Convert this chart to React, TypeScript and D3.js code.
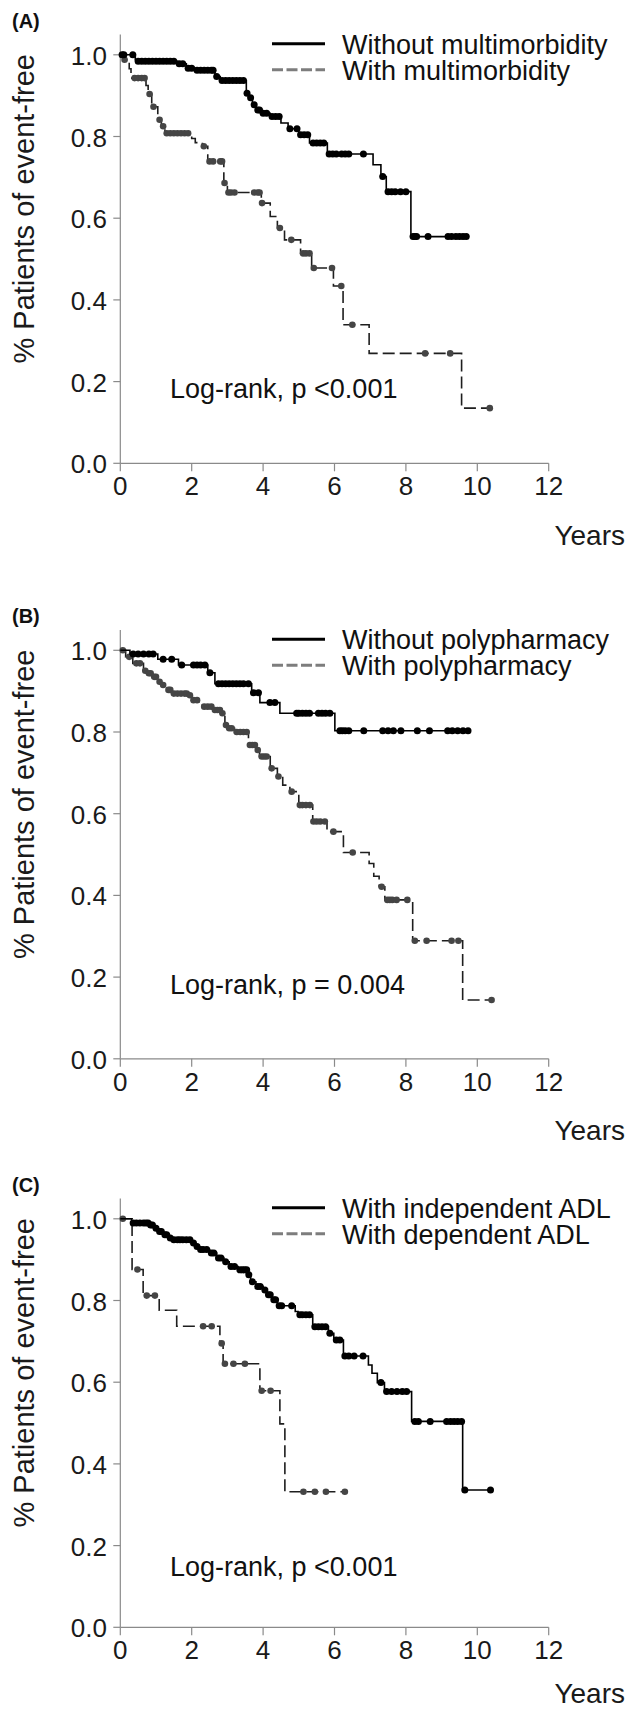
import React from 'react';
import * as d3 from 'd3';

// Kaplan-Meier panels: steps are [years, survival after the drop], censors are times of the marks
const yearTicks = [0, 2, 4, 6, 8, 10, 12];
const survTicks = [0, 0.2, 0.4, 0.6, 0.8, 1.0];
const panelLetters = ['(A)', '(B)', '(C)'];
const pLabels = ['Log-rank, p <0.001', 'Log-rank, p = 0.004', 'Log-rank, p <0.001'];
const legendA = ['Without multimorbidity', 'With multimorbidity'];
const legendB = ['Without polypharmacy', 'With polypharmacy'];
const legendC = ['With independent ADL', 'With dependent ADL'];

const aSolidSteps: [number, number][] = [
  [0.42, 0.988], [0.47, 0.984], [1.6, 0.978], [1.85, 0.967], [2.1, 0.962], [2.65, 0.947],
  [2.8, 0.937], [3.53, 0.906], [3.6, 0.895], [3.7, 0.878], [3.8, 0.865], [3.95, 0.857],
  [4.2, 0.849], [4.5, 0.833], [4.7, 0.819], [5.0, 0.804], [5.3, 0.784], [5.8, 0.757],
  [7.08, 0.731], [7.3, 0.702], [7.45, 0.665], [8.14, 0.555]
];
const aSolidCensor = [
  0.05, 0.1, 0.35, 0.5, 0.6, 0.7, 0.8, 0.9, 1.0, 1.1, 1.2, 1.3, 1.4, 1.5, 1.65, 1.75, 1.9, 2.0,
  2.15, 2.25, 2.35, 2.45, 2.55, 2.6, 2.7, 2.85, 2.95, 3.05, 3.15, 3.25, 3.35, 3.45, 3.55, 3.65,
  3.75, 3.85, 3.9, 4.0, 4.1, 4.25, 4.35, 4.45, 4.75, 4.95, 5.05, 5.15, 5.25, 5.4, 5.5, 5.6, 5.7,
  5.85, 5.95, 6.05, 6.2, 6.3, 6.4, 6.81, 7.35, 7.5, 7.6, 7.7, 7.85, 8.0, 8.2, 8.25, 8.3, 8.62,
  9.18, 9.28, 9.4, 9.5, 9.6, 9.69
];
const aDashSteps: [number, number][] = [
  [0.1, 0.988], [0.25, 0.966], [0.3, 0.943], [0.72, 0.925], [0.78, 0.904], [0.88, 0.873],
  [1.05, 0.841], [1.15, 0.825], [1.25, 0.808], [2.0, 0.795], [2.1, 0.785], [2.3, 0.776],
  [2.45, 0.739], [2.9, 0.686], [3.0, 0.663], [3.95, 0.637], [4.2, 0.604], [4.4, 0.576],
  [4.6, 0.547], [5.05, 0.514], [5.36, 0.478], [5.97, 0.434], [6.24, 0.339], [6.97, 0.269],
  [9.56, 0.135]
];
const aDashCensor = [
  0.12, 0.4, 0.5, 0.6, 0.68, 0.82, 0.93, 1.1, 1.2, 1.3, 1.4, 1.5, 1.6, 1.7, 1.8, 1.9, 2.34,
  2.5, 2.6, 2.8, 2.85, 2.92, 3.03, 3.1, 3.2, 3.75, 3.85, 3.9, 3.97, 4.47, 4.79, 5.12, 5.2, 5.3,
  5.42, 5.93, 6.19, 6.5, 8.54, 9.24, 10.35
];

const bSolidSteps: [number, number][] = [
  [0.27, 0.991], [1.05, 0.978], [1.63, 0.964], [2.45, 0.945], [2.65, 0.918], [3.68, 0.896],
  [3.91, 0.872], [4.47, 0.846], [6.01, 0.803]
];
const bSolidCensor = [
  0.36, 0.5, 0.65, 0.8, 0.92, 1.2, 1.44, 1.72, 2.05, 2.15, 2.25, 2.37, 2.51, 2.75, 2.85, 2.95,
  3.05, 3.15, 3.25, 3.35, 3.45, 3.59, 3.73, 3.87, 4.19, 4.33, 4.94, 5.0, 5.1, 5.2, 5.3, 5.55,
  5.65, 5.75, 5.87, 6.15, 6.22, 6.3, 6.4, 6.82, 7.35, 7.5, 7.65, 7.86, 8.32, 8.66, 9.17, 9.3,
  9.45, 9.6, 9.74
];
const bDashSteps: [number, number][] = [
  [0.15, 0.984], [0.35, 0.968], [0.65, 0.95], [0.75, 0.944], [0.9, 0.935], [1.05, 0.923],
  [1.15, 0.915], [1.3, 0.903], [1.45, 0.894], [1.9, 0.89], [2.0, 0.878], [2.2, 0.87],
  [2.3, 0.862], [2.6, 0.854], [2.82, 0.846], [2.93, 0.817], [3.0, 0.809], [3.2, 0.8],
  [3.59, 0.768], [3.8, 0.756], [3.9, 0.74], [4.2, 0.711], [4.4, 0.691], [4.55, 0.67],
  [4.75, 0.654], [5.0, 0.621], [5.39, 0.581], [5.79, 0.556], [6.25, 0.505], [6.97, 0.478],
  [7.1, 0.447], [7.25, 0.421], [7.41, 0.389], [8.19, 0.289], [9.59, 0.144]
];
const bDashCensor = [
  0.07, 0.25, 0.45, 0.55, 0.7, 0.8, 0.85, 0.95, 1.0, 1.1, 1.2, 1.35, 1.4, 1.5, 1.6, 1.7, 1.8,
  1.86, 1.95, 2.05, 2.15, 2.35, 2.45, 2.55, 2.65, 2.72, 2.79, 2.86, 2.96, 3.05, 3.12, 3.26,
  3.36, 3.45, 3.54, 3.63, 3.7, 3.77, 3.85, 3.96, 4.03, 4.1, 4.24, 4.43, 4.8, 5.03, 5.1, 5.2,
  5.31, 5.41, 5.5, 5.6, 5.73, 5.97, 6.51, 7.32, 7.48, 7.55, 7.62, 7.74, 8.04, 8.25, 8.58,
  9.28, 9.47, 10.4
];

const cSolidSteps: [number, number][] = [
  [0.32, 0.99], [0.8, 0.985], [0.95, 0.977], [1.05, 0.969], [1.2, 0.961], [1.35, 0.953],
  [1.45, 0.949], [2.0, 0.941], [2.1, 0.932], [2.2, 0.925], [2.5, 0.916], [2.7, 0.904],
  [2.9, 0.895], [3.05, 0.883], [3.3, 0.875], [3.55, 0.863], [3.65, 0.846], [3.8, 0.834],
  [4.0, 0.826], [4.1, 0.814], [4.25, 0.802], [4.4, 0.787], [4.9, 0.773], [4.98, 0.765],
  [5.39, 0.736], [5.83, 0.72], [5.98, 0.703], [6.25, 0.664], [6.95, 0.642], [7.05, 0.622],
  [7.2, 0.599], [7.4, 0.577], [8.16, 0.504], [9.59, 0.336]
];
const cSolidCensor = [
  0.36, 0.45, 0.55, 0.65, 0.72, 0.78, 0.85, 0.9, 1.0, 1.1, 1.15, 1.25, 1.3, 1.4, 1.5, 1.6,
  1.67, 1.75, 1.85, 1.95, 2.05, 2.15, 2.25, 2.32, 2.42, 2.55, 2.62, 2.75, 2.82, 2.95, 3.1,
  3.2, 3.35, 3.42, 3.48, 3.54, 3.6, 3.7, 3.85, 3.92, 4.05, 4.15, 4.2, 4.3, 4.35, 4.45, 4.52,
  4.8, 5.03, 5.1, 5.2, 5.3, 5.45, 5.55, 5.65, 5.75, 5.87, 6.05, 6.15, 6.29, 6.4, 6.55, 6.8,
  7.3, 7.46, 7.6, 7.75, 7.9, 8.02, 8.25, 8.35, 8.68, 9.14, 9.25, 9.35, 9.45, 9.56, 9.65, 10.37
];
const cDashSteps: [number, number][] = [
  [0.33, 0.876], [0.64, 0.812], [1.09, 0.776], [1.58, 0.737], [2.79, 0.695], [2.88, 0.645],
  [3.91, 0.579], [4.47, 0.498], [4.61, 0.332]
];
const cDashCensor = [
  0.07, 0.48, 0.74, 0.97, 2.32, 2.56, 2.84, 2.93, 3.17, 3.49, 3.96, 4.21, 5.13, 5.45, 5.76, 6.29
];

const panels = [
  { legend: legendA, solid: [aSolidSteps, aSolidCensor], dash: [aDashSteps, aDashCensor] },
  { legend: legendB, solid: [bSolidSteps, bSolidCensor], dash: [bDashSteps, bDashCensor] },
  { legend: legendC, solid: [cSolidSteps, cSolidCensor], dash: [cDashSteps, cDashCensor] }
];

// layout
const W = 638;
const H = 1710;
const panelTops = [54.8, 650.3, 1218.8]; // pixel row of survival 1.0
const plotH = 408.5;
const pLabelLevel = [0.159, 0.159, 0.125];
const yearsOffset = [490, 490, 484]; // last one sits on the page edge
const font = "'Liberation Sans', Arial, Helvetica, sans-serif";

const x = d3.scaleLinear().domain([0, 12]).range([120.3, 548.7]);

const survAt = (steps: [number, number][], t: number) => {
  let s = 1;
  for (const [st, sv] of steps) if (st <= t) s = sv;
  return s;
};

const Curve = ({ steps, censor, y, dashed }) => {
  const end = Math.max(d3.max(censor) as number, steps[steps.length - 1][0]);
  const pts: [number, number][] = [[0, 1], ...steps, [end, steps[steps.length - 1][1]]];
  const line = d3
    .line<[number, number]>()
    .x(d => x(d[0]))
    .y(d => y(d[1]))
    .curve(d3.curveStepAfter);
  const col = dashed ? '#454545' : '#000';
  return (
    <g>
      <path
        d={line(pts) || ''}
        fill="none"
        stroke={dashed ? '#1e1e1e' : '#000'}
        strokeWidth={1.6}
        strokeDasharray={dashed ? '12,5' : undefined}
      />
      {censor.map((t, i) => (
        <circle key={i} cx={x(t)} cy={y(survAt(steps, t))} r={dashed ? 3.3 : 3.5} fill={col} />
      ))}
    </g>
  );
};

const Panel = ({ idx }) => {
  const top = panelTops[idx];
  const p = panels[idx];
  const y = d3.scaleLinear().domain([0, 1]).range([top + plotH, top]);
  const y0 = y(0);
  return (
    <g>
      <text x={12} y={top - 27} fontFamily={font} fontSize={20} fontWeight="bold" fill="#111">
        {panelLetters[idx]}
      </text>
      <text
        transform={`translate(34, ${top + 154}) rotate(-90)`}
        textAnchor="middle"
        fontFamily={font}
        fontSize={29}
        fill="#1a1a1a"
      >
        % Patients of event-free
      </text>
      {/* axes */}
      <line x1={x(0)} x2={x(0)} y1={y(0)} y2={y(1.05)} stroke="#8a8a8a" strokeWidth={1.2} />
      <line x1={x(0)} x2={x(12)} y1={y0} y2={y0} stroke="#8a8a8a" strokeWidth={1.2} />
      {survTicks.map(t => (
        <g key={t}>
          <line x1={x(0) - 7} x2={x(0)} y1={y(t)} y2={y(t)} stroke="#8a8a8a" strokeWidth={1.2} />
          <text x={107} y={y(t) + 10} textAnchor="end" fontFamily={font} fontSize={26} fill="#1a1a1a">
            {t.toFixed(1)}
          </text>
        </g>
      ))}
      {yearTicks.map(t => (
        <g key={t}>
          <line x1={x(t)} x2={x(t)} y1={y0} y2={y0 + 8} stroke="#8a8a8a" strokeWidth={1.2} />
          <text x={x(t)} y={y0 + 32} textAnchor="middle" fontFamily={font} fontSize={26} fill="#1a1a1a">
            {t}
          </text>
        </g>
      ))}
      <text
        x={625}
        y={top + yearsOffset[idx]}
        textAnchor="end"
        fontFamily={font}
        fontSize={28}
        fill="#1a1a1a"
      >
        Years
      </text>
      {/* legend */}
      <line x1={272} x2={325} y1={top - 11} y2={top - 11} stroke="#000" strokeWidth={3} />
      <line
        x1={272}
        x2={325}
        y1={top + 15}
        y2={top + 15}
        stroke="#7d7d7d"
        strokeWidth={3}
        strokeDasharray="11,3.5"
      />
      <text x={342} y={top - 1} fontFamily={font} fontSize={27} fill="#111">
        {p.legend[0]}
      </text>
      <text x={342} y={top + 25} fontFamily={font} fontSize={27} fill="#111">
        {p.legend[1]}
      </text>
      <text x={170} y={y(pLabelLevel[idx])} fontFamily={font} fontSize={27} fill="#111">
        {pLabels[idx]}
      </text>
      <Curve steps={p.dash[0]} censor={p.dash[1]} y={y} dashed />
      <Curve steps={p.solid[0]} censor={p.solid[1]} y={y} dashed={false} />
    </g>
  );
};

export default function App() {
  return (
    <svg
      width={W}
      height={H}
      style={{ position: 'absolute', left: 0, top: 0, background: '#fff' }}
    >
      <rect width={W} height={H} fill="#fff" />
      {[0, 1, 2].map(i => (
        <Panel key={i} idx={i} />
      ))}
    </svg>
  );
}
